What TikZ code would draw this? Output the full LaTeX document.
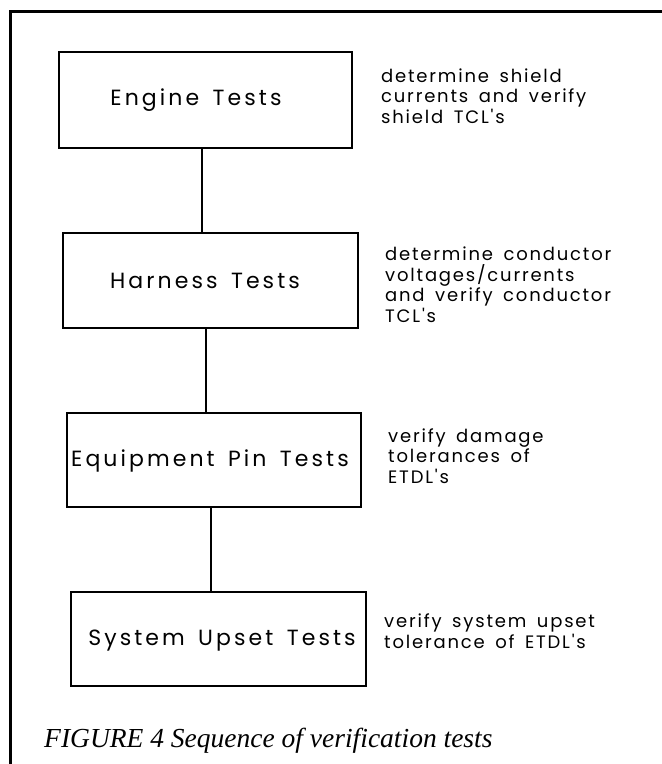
\documentclass[tikz,border=0pt]{standalone}
\usepackage{fontspec}
\newfontfamily\boxfont[LetterSpace=14, WordSpace=1.5]{Poppins}
\newfontfamily\descfont[LetterSpace=10, WordSpace=1.6]{Poppins}
\newfontfamily\capfont{Liberation Serif}
\tikzset{
  testbox/.style={draw, line width=2pt, inner sep=0pt, minimum height=95pt},
  boxtext/.style={inner sep=0pt, font=\boxfont\fontsize{22}{26}\selectfont},
  link/.style={line width=2pt},
  desc/.style={anchor=base west, align=left, inner sep=0pt,
    font=\descfont\fontsize{18}{20.5}\selectfont},
  frameline/.style={line width=3pt, line cap=rect},
}
\begin{document}
\begin{tikzpicture}[x=1pt, y=-1pt]
\useasboundingbox (0,0) rectangle (662,764);
\fill[white] (0,0) rectangle (662,764);
% frame
\draw[frameline] (10,764) -- (10,11) -- (662,11);
% boxes
\node[testbox, minimum width=293pt, minimum height=96pt] (e) at (205.5,100) {};
\node[testbox, minimum width=295pt] (h) at (210.5,280.5) {};
\node[testbox, minimum width=294pt, minimum height=94pt] (q) at (214,460) {};
\node[testbox, minimum width=295pt, minimum height=94pt] (s) at (218.5,639) {};
% box texts
\node[boxtext] (et) at (196,100) {Engine Tests};
\node[boxtext] (ht) at (205,281) {Harness Tests};
\node[boxtext] (qt) at (210,461) {Equipment Pin Tests};
\node[boxtext] (st) at (222,641) {System Upset Tests};
% connectors
\draw[link] ([xshift=-3.5pt]e.south) -- ([xshift=-3.5pt]e.south |- h.north);
\draw[link] ([xshift=-4.5pt]h.south) -- ([xshift=-4.5pt]h.south |- q.north);
\draw[link] ([xshift=-3pt]q.south) -- ([xshift=-3pt]q.south |- s.north);
% descriptions (anchored at the baseline of their last line)
\node[desc] (ed) at (381,123) {determine shield\\currents and verify\\shield TCL's};
\node[desc] (hd) at (385,322) {determine conductor\\voltages/currents\\and verify conductor\\TCL's};
\node[desc] (qd) at (388,483) {verify damage\\tolerances of\\ETDL's};
\node[desc] (sd) at (384,648) {verify system upset\\tolerance of ETDL's};
% caption
\node[anchor=base west, inner sep=0pt, font=\capfont\itshape\fontsize{27.5}{32}\selectfont] (cap) at (44,747) {FIGURE 4 Sequence of verification tests};
\end{tikzpicture}
\end{document}
